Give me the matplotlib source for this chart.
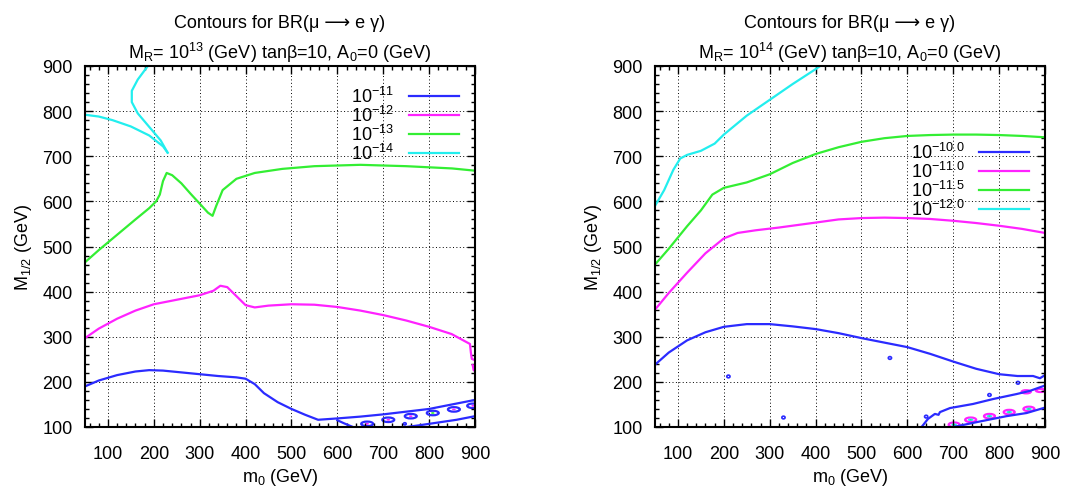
import matplotlib
matplotlib.use("Agg")
import matplotlib.pyplot as plt
from matplotlib.patches import Ellipse
from matplotlib.ticker import MultipleLocator

plt.rcParams['font.family'] = ['Liberation Sans', 'DejaVu Sans']
plt.rcParams['mathtext.fontset'] = 'custom'
plt.rcParams['mathtext.rm'] = 'Liberation Sans'
plt.rcParams['mathtext.it'] = 'Liberation Sans'

BLUE = '#2b2bff'
MAG = '#ff22ff'
GREEN = '#33ee33'
CYAN = '#22eeee'

# ---------------- left panel data (M_R = 1e13) ----------------
L_blue_x = [50, 80, 120, 160, 190, 220, 260, 300, 340, 380, 400, 420, 440, 470, 500, 530, 558, 600, 650, 700, 750, 800, 850, 900]
L_blue_y = [190, 203, 215, 223, 226, 225, 221, 217, 213, 210, 207, 195, 175, 155, 140, 127, 116, 119, 123, 128, 134, 140, 150, 160]
L_blue_low_x = [751, 780, 820, 860, 900]
L_blue_low_y = [100, 104, 110, 116, 124]
L_blue_seg_x = [600, 615, 634]
L_blue_seg_y = [115, 108, 100]
L_mag_x = [50, 80, 120, 160, 200, 250, 300, 330, 345, 360, 380, 400, 420, 450, 500, 550, 600, 650, 700, 750, 800, 849, 889, 891, 893, 900]
L_mag_y = [297, 318, 340, 358, 372, 382, 392, 402, 413, 410, 390, 370, 365, 369, 372, 371, 366, 358, 348, 336, 322, 306, 284, 265, 251, 248]
L_mag2_x = [895, 897, 900]
L_mag2_y = [237, 226, 224]
L_green_x = [50, 80, 120, 160, 190, 205, 213, 220, 228, 240, 260, 280, 300, 318, 328, 336, 350, 380, 420, 480, 550, 650, 750, 850, 900]
L_green_y = [465, 492, 526, 560, 585, 600, 615, 645, 663, 658, 640, 617, 595, 575, 568, 590, 625, 650, 663, 672, 678, 681, 678, 673, 668]
L_cyan1_x = [50, 80, 110, 150, 190, 220, 230]
L_cyan1_y = [792, 788, 780, 766, 746, 722, 708]
L_cyan2_x = [187, 165, 152, 152, 165, 190, 215, 230]
L_cyan2_y = [900, 870, 845, 820, 795, 765, 735, 708]
L_isl_x = [665, 711, 760, 808, 854, 896]
L_isl_y = [107, 116, 124, 131, 139, 147]
L_labels = ['10$^{\\mathregular{-11}}$', '10$^{\\mathregular{-12}}$', '10$^{\\mathregular{-13}}$', '10$^{\\mathregular{-14}}$']

# ---------------- right panel data (M_R = 1e14) ----------------
R_blue_x = [50, 80, 120, 160, 200, 250, 300, 350, 400, 450, 500, 550, 600, 650, 700, 750, 800, 840, 874, 889, 900]
R_blue_y = [238, 265, 292, 310, 322, 328, 328, 323, 317, 308, 297, 287, 277, 262, 245, 229, 217, 213, 213, 208, 215]
R_bband_x = [631, 645, 660, 668, 671, 693, 743, 787, 838, 867, 900]
R_bband_y = [100, 118, 129, 127, 133, 142, 151, 162, 173, 180, 192]
R_blow_x = [700, 757, 816, 860, 900]
R_blow_y = [100, 112, 124, 131, 143]
R_mag_x = [50, 80, 120, 160, 200, 230, 270, 320, 400, 450, 500, 550, 600, 650, 700, 750, 800, 850, 900]
R_mag_y = [360, 397, 442, 485, 518, 530, 536, 542, 553, 560, 563, 564, 563, 561, 557, 552, 546, 539, 530]
R_green_x = [50, 80, 120, 150, 175, 200, 250, 300, 350, 400, 450, 500, 550, 600, 650, 700, 750, 800, 850, 900]
R_green_y = [460, 495, 545, 580, 615, 630, 642, 660, 685, 705, 720, 732, 740, 745, 747, 748, 748, 747, 745, 742]
R_cyan_x = [50, 70, 90, 105, 120, 150, 180, 200, 250, 300, 350, 400, 410]
R_cyan_y = [590, 625, 670, 695, 703, 712, 728, 748, 790, 825, 860, 893, 900]
R_isl_x = [702, 738, 779, 822, 865]
R_isl_y = [105, 116, 124, 133, 140]
R_dot_x = [562, 841, 779, 641, 210, 330]
R_dot_y = [253, 198, 171, 123, 212, 121]
R_labels = ['10$^{\\mathregular{-10.0}}$', '10$^{\\mathregular{-11.0}}$', '10$^{\\mathregular{-11.5}}$', '10$^{\\mathregular{-12.0}}$']

x_ticks = [100, 200, 300, 400, 500, 600, 700, 800, 900]
y_ticks = [100, 200, 300, 400, 500, 600, 700, 800, 900]

fig = plt.figure(figsize=(10.65, 4.89), dpi=100)
axL = fig.add_axes([85/1065, 1-428/489, 390/1065, 361/489])
axR = fig.add_axes([655/1065, 1-428/489, 390/1065, 361/489])

LW = 1.6


def style(ax, title):
    ax.set_xlim(50, 900)
    ax.set_ylim(100, 900)
    ax.set_xticks(x_ticks)
    ax.set_yticks(y_ticks)
    ax.xaxis.set_minor_locator(MultipleLocator(20))
    ax.yaxis.set_minor_locator(MultipleLocator(20))
    ax.tick_params(which='both', direction='in', top=True, right=True, labelsize=13, width=1.0, colors='black')
    ax.tick_params(which='major', length=6)
    ax.tick_params(which='minor', length=3)
    ax.tick_params(axis='x', which='major', pad=13)
    ax.tick_params(axis='y', which='major', pad=9)
    ax.grid(True, which='major', color='black', linestyle=(0, (1, 2.5)), linewidth=0.7)
    for s in ax.spines.values():
        s.set_linewidth(1.5)
    ax.set_xlabel('m$_{\\mathregular{0}}$ (GeV)', fontsize=13, labelpad=3)
    ax.set_ylabel('M$_{\\mathregular{1/2}}$ (GeV)', fontsize=13, labelpad=6)
    ax.set_title(title, fontsize=13, linespacing=1.45, pad=6)


def legend(ax, anchor):
    leg = ax.legend(loc='upper right', bbox_to_anchor=anchor, frameon=False, markerfirst=False,
                    fontsize=13, handlelength=2.8, labelspacing=-0.06, handletextpad=0.8,
                    borderaxespad=0.0, borderpad=0.0)
    return leg


# left
axL.plot(L_blue_x, L_blue_y, color=BLUE, lw=LW, label=L_labels[0])
axL.plot(L_mag_x, L_mag_y, color=MAG, lw=LW, label=L_labels[1])
axL.plot(L_green_x, L_green_y, color=GREEN, lw=LW, label=L_labels[2])
axL.plot(L_cyan1_x, L_cyan1_y, color=CYAN, lw=LW, label=L_labels[3])
axL.plot(L_cyan2_x, L_cyan2_y, color=CYAN, lw=LW)
axL.plot(L_blue_low_x, L_blue_low_y, color=BLUE, lw=LW)
axL.plot(L_blue_seg_x, L_blue_seg_y, color=BLUE, lw=LW)
axL.plot(L_mag2_x, L_mag2_y, color=MAG, lw=LW)
for i, (cx, cy) in enumerate(zip(L_isl_x, L_isl_y)):
    axL.add_patch(Ellipse((cx, cy), 26, 10, fill=False, edgecolor=BLUE, lw=LW, clip_on=True))
    axL.add_patch(Ellipse((cx, cy), 8, 4, color=(GREEN if i == 3 else MAG), lw=0))
axL.add_patch(Ellipse((747, 107), 6, 5, fill=False, edgecolor=BLUE, lw=1.2))

style(axL, 'Contours for BR(μ ⟶ e γ)\nM$_{\\mathregular{R}}$= 10$^{\\mathregular{13}}$ (GeV) tanβ=10, A$_{\\mathregular{0}}$=0 (GeV)')
legend(axL, (0.96, 0.945))

# right
axR.plot(R_blue_x, R_blue_y, color=BLUE, lw=LW, label=R_labels[0])
axR.plot(R_mag_x, R_mag_y, color=MAG, lw=LW, label=R_labels[1])
axR.plot(R_green_x, R_green_y, color=GREEN, lw=LW, label=R_labels[2])
axR.plot(R_cyan_x, R_cyan_y, color=CYAN, lw=LW, label=R_labels[3])
axR.plot(R_bband_x, R_bband_y, color=BLUE, lw=LW)
axR.plot(R_blow_x, R_blow_y, color=BLUE, lw=LW)
for cx, cy in zip(R_isl_x, R_isl_y):
    axR.add_patch(Ellipse((cx, cy), 24, 10, fill=False, edgecolor=MAG, lw=LW))
    axR.add_patch(Ellipse((cx, cy), 12, 6, color=CYAN, lw=0))
    axR.add_patch(Ellipse((cx, cy), 4, 2.5, color=GREEN, lw=0))
for cx, cy in zip(R_dot_x, R_dot_y):
    axR.add_patch(Ellipse((cx, cy), 7, 6, fill=False, edgecolor=BLUE, lw=1.2))
axR.add_patch(Ellipse((859, 178), 20, 7, fill=False, edgecolor=MAG, lw=LW))
axR.add_patch(Ellipse((890, 181), 20, 7, fill=False, edgecolor=MAG, lw=LW))

style(axR, 'Contours for BR(μ ⟶ e γ)\nM$_{\\mathregular{R}}$= 10$^{\\mathregular{14}}$ (GeV) tanβ=10, A$_{\\mathregular{0}}$=0 (GeV)')
legend(axR, (0.96, 0.79))

fig.savefig('out.png', dpi=100)
